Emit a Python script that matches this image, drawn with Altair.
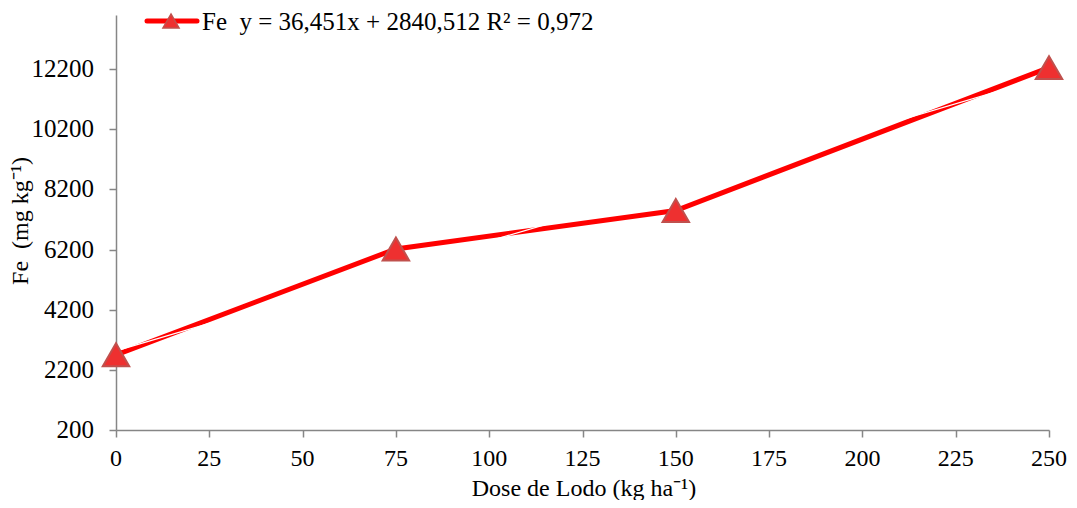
import altair as alt
import pandas as pd

dose = [0, 75, 150, 250]
fe = [2700, 6220, 7500, 12250]
x_ticks = [0, 25, 50, 75, 100, 125, 150, 175, 200, 225, 250]
y_ticks = [200, 2200, 4200, 6200, 8200, 10200, 12200]
legend_text = ["Fe\u00a0\u00a0y = 36,451x + 2840,512 R² = 0,972"]
x_title = ["Dose de Lodo (kg ha⁻¹)"]
y_title = ["Fe\u00a0\u00a0(mg kg⁻¹)"]

df = pd.DataFrame({"dose": dose, "fe": fe})
FONT = "Liberation Serif"

x_scale = alt.Scale(domain=[0, 250], nice=False, zero=False)
y_scale = alt.Scale(domain=[200, 14000], nice=False, zero=False)

x_axis = alt.Axis(values=x_ticks, title=None, labels=False, grid=False,
                  domainColor="#868686", tickColor="#868686", domainWidth=1.5,
                  tickWidth=1.5, tickSize=7)
y_axis = alt.Axis(values=y_ticks, title=None, labels=False, grid=False,
                  domainColor="#868686", tickColor="#868686", domainWidth=1.5,
                  tickWidth=1.5, tickSize=7)

x_enc = alt.X("dose:Q", scale=x_scale, axis=x_axis)
y_enc = alt.Y("fe:Q", scale=y_scale, axis=y_axis)

base = alt.Chart(df)

line = base.mark_line(color="#FF0000", strokeWidth=5).encode(x=x_enc, y=y_enc)

trend = base.transform_regression("dose", "fe", extent=[0, 250]).mark_line(
    color="white", strokeWidth=1.2).encode(x=x_enc, y=y_enc)

points = base.mark_point(shape="triangle-up", size=700, filled=True,
                         fill="#EE3030", stroke="#C0504D", strokeWidth=2,
                         opacity=1).encode(x=x_enc, y=y_enc)

# tick labels drawn through the same scales
xt_df = pd.DataFrame({"dose": x_ticks})
yt_df = pd.DataFrame({"fe": y_ticks})
x_labels = alt.Chart(xt_df).mark_text(font=FONT, fontSize=24, color="black",
                                      align="center", baseline="middle").encode(
    x=x_enc, y=alt.value(444), text=alt.Text("dose:Q", format="d"))
y_labels = alt.Chart(yt_df).mark_text(font=FONT, fontSize=25, color="black",
                                      align="right", baseline="middle").encode(
    y=y_enc, x=alt.value(-22), text=alt.Text("fe:Q", format="d"))

xt = alt.Chart(pd.DataFrame({"t": x_title})).mark_text(
    font=FONT, fontSize=24, color="black", align="center",
    baseline="alphabetic").encode(x=alt.value(468), y=alt.value(481), text="t:N")
yt = alt.Chart(pd.DataFrame({"t": y_title})).mark_text(
    font=FONT, fontSize=24, color="black", align="center", baseline="middle",
    angle=270).encode(x=alt.value(-95), y=alt.value(206), text="t:N")

leg_df = pd.DataFrame({"label": legend_text})
leg_line = alt.Chart(leg_df).mark_rule(color="#FF0000", strokeWidth=5,
                                       strokeCap="round").encode(
    x=alt.value(31), x2=alt.value(81), y=alt.value(6))
leg_pt = alt.Chart(leg_df).mark_point(shape="triangle-up", size=260, filled=True,
                                      fill="#EE3030", stroke="#C0504D",
                                      strokeWidth=1.5, opacity=1).encode(
    x=alt.value(55), y=alt.value(6))
leg_txt = alt.Chart(leg_df).mark_text(align="left", baseline="middle",
                                      font=FONT, fontSize=25, color="black").encode(
    x=alt.value(86), y=alt.value(7), text="label:N")

chart = alt.layer(line, trend, points, x_labels, y_labels, xt, yt,
                  leg_line, leg_pt, leg_txt).properties(
    width=933, height=415,
    autosize=alt.AutoSizeParams(type="none"),
    padding={"left": 108, "top": 7, "right": 20, "bottom": 70},
    background="white",
).configure_view(stroke=None)

chart.save("out.html", embed_options={"renderer": "svg", "actions": False})
